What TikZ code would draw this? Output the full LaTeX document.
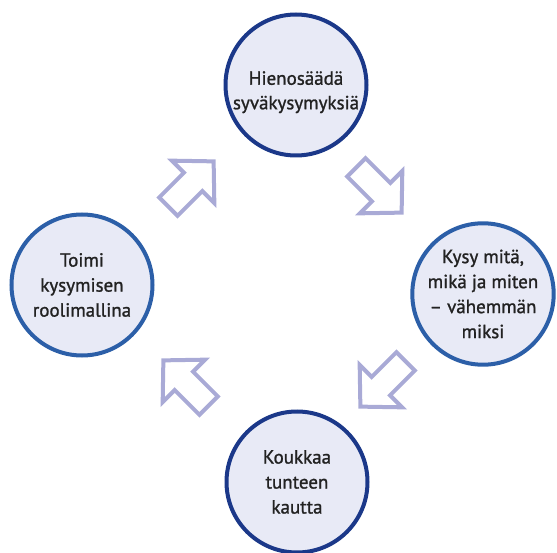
\documentclass[tikz,border=0pt]{standalone}
\usepackage{fontspec}
\setmainfont{PT Sans}
\newfontfamily\bubblefont[FakeBold=1.2]{PT Sans}
\definecolor{cfill}{HTML}{E8EAF6}
\definecolor{navy}{HTML}{1B3889}
\definecolor{midblue}{HTML}{2C5FA8}
\definecolor{lav}{HTML}{A9AAD6}
\definecolor{txt}{HTML}{222222}
\tikzset{
  bubble/.style={circle, draw=navy, fill=cfill, line width=4pt, minimum size=141pt, inner sep=0pt,
    align=center, text=txt, font=\bubblefont\fontsize{19}{25}\selectfont},
  bubblelight/.style={bubble, draw=midblue},
  blockarrow/.style={draw=lav, line width=4pt, fill=white, line join=miter},
}
\newcommand{\blockarrowpath}{(-32,-13) -- (3,-13) -- (3,-30) -- (32,0) -- (3,30) -- (3,13) -- (-32,13) -- cycle}
\begin{document}
\begin{tikzpicture}[x=1pt,y=-1pt]
\useasboundingbox (0,0) rectangle (557,553);
\node[bubble] (tp) at (296,85) {\raisebox{-7pt}[\height][\depth]{\begin{tabular}{@{}c@{}}Hienosäädä\\[-0.5pt]syväkysymyksiä\end{tabular}}};
\node[bubblelight] (lt) at (82,285) {Toimi\\kysymisen\\roolimallina};
\node[bubblelight] (rt) at (483,294) {Kysy mitä,\\mikä ja miten\\– vähemmän\\miksi};
\node[bubble] (bt) at (297,482) {Koukkaa\\tunteen\\kautta};
\coordinate (a1) at (191,184);
\coordinate (a2) at (379,190);
\coordinate (a3) at (383,384);
\coordinate (a4) at (186,383);
\begin{scope}[shift={(a1)}, rotate=45]
  \draw[blockarrow] \blockarrowpath;
\end{scope}
\begin{scope}[shift={(a2)}, rotate=-45]
  \draw[blockarrow] \blockarrowpath;
\end{scope}
\begin{scope}[shift={(a3)}, rotate=-135]
  \draw[blockarrow] \blockarrowpath;
\end{scope}
\begin{scope}[shift={(a4)}, rotate=135]
  \draw[blockarrow] \blockarrowpath;
\end{scope}
\end{tikzpicture}
\end{document}
